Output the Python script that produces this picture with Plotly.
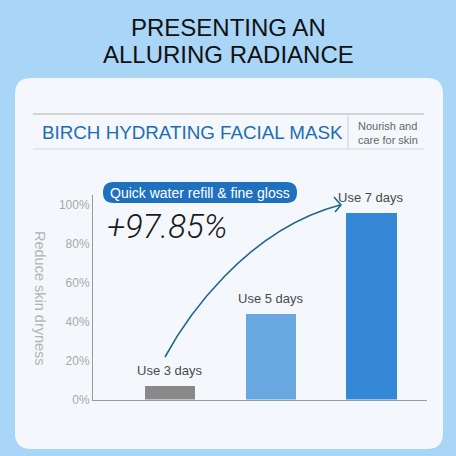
import plotly.graph_objects as go

# ---- data ----
categories = ["Use 3 days", "Use 5 days", "Use 7 days"]
values = [7, 44, 96]
bar_colors = ["#898989", "#68a7df", "#3588d5"]
y_ticks = [0, 20, 40, 60, 80, 100]
y_tick_labels = ["0%", "20%", "40%", "60%", "80%", "100%"]

title_lines = ["PRESENTING AN", "ALLURING RADIANCE"]
header_text = "BIRCH HYDRATING FACIAL MASK"
side_text = "Nourish and<br>care for skin"
pill_text = "Quick water refill & fine gloss"
big_text = "+97.85%"
y_title = "Reduce skin dryness"

W = H = 456


def px(x, y):
    return x / W, 1 - y / H


def rounded_rect(x0, y0, x1, y1, r):
    def P(x, y):
        a, b = px(x, y)
        return f"{a:.5f},{b:.5f}"
    return (f"M {P(x0 + r, y0)} L {P(x1 - r, y0)} Q {P(x1, y0)} {P(x1, y0 + r)} "
            f"L {P(x1, y1 - r)} Q {P(x1, y1)} {P(x1 - r, y1)} "
            f"L {P(x0 + r, y1)} Q {P(x0, y1)} {P(x0, y1 - r)} "
            f"L {P(x0, y0 + r)} Q {P(x0, y0)} {P(x0 + r, y0)} Z")


def path_pts(cmds):
    out = []
    for c in cmds:
        if isinstance(c, str):
            out.append(c)
        else:
            a, b = px(*c)
            out.append(f"{a:.5f},{b:.5f}")
    return " ".join(out)


fig = go.Figure()
fig.add_trace(go.Bar(
    x=categories, y=values, marker_color=bar_colors, width=0.5,
    marker_line_width=0, hoverinfo="skip", showlegend=False,
))

shapes = []
# card
shapes.append(dict(type="path", xref="paper", yref="paper", layer="below",
                   path=rounded_rect(15, 78, 443, 449, 16),
                   fillcolor="#f4f8fc", line=dict(width=0)))
# header lines
for yy, col, wd in [(114, "#c9c9c9", 1.5), (149, "#d6d6d6", 1)]:
    a0, b0 = px(33, yy)
    a1, b1 = px(424, yy)
    shapes.append(dict(type="line", xref="paper", yref="paper", x0=a0, x1=a1, y0=b0, y1=b1,
                       line=dict(color=col, width=wd)))
a0, b0 = px(348, 116)
a1, b1 = px(348, 148)
shapes.append(dict(type="line", xref="paper", yref="paper", x0=a0, x1=a1, y0=b0, y1=b1,
                   line=dict(color="#cccccc", width=1)))
# pill
shapes.append(dict(type="path", xref="paper", yref="paper",
                   path=rounded_rect(103, 182, 297, 203, 10.5),
                   fillcolor="#1f70bf", line=dict(width=0)))
# arrow curve
shapes.append(dict(type="path", xref="paper", yref="paper",
                   path=path_pts(["M", (165, 357), "C", (185, 320), (245, 230), (340, 205)]),
                   line=dict(color="#1e6690", width=1.6)))
shapes.append(dict(type="path", xref="paper", yref="paper",
                   path=path_pts(["M", (334, 197), "L", (341, 205), "L", (335, 212)]),
                   line=dict(color="#1e6690", width=1.6)))

annotations = []
FONT = "Liberation Sans, Arial, sans-serif"
for i, line in enumerate(title_lines):
    a, b = px(228, 28 + i * 26.5)
    annotations.append(dict(xref="paper", yref="paper", x=a, y=b, text=line, showarrow=False,
                            font=dict(family=FONT, size=24, color="#111111"),
                            xanchor="center", yanchor="middle"))
a, b = px(40, 132)
annotations.append(dict(xref="paper", yref="paper", x=a, y=b, text=header_text, showarrow=False,
                        font=dict(family=FONT, size=18.8, color="#1e6db3"),
                        xanchor="left", yanchor="middle"))
a, b = px(356, 133)
annotations.append(dict(xref="paper", yref="paper", x=a, y=b, text=side_text, showarrow=False,
                        font=dict(family=FONT, size=11, color="#666666"), align="left",
                        xanchor="left", yanchor="middle"))
a, b = px(200, 192.5)
annotations.append(dict(xref="paper", yref="paper", x=a, y=b, text=pill_text, showarrow=False,
                        font=dict(family=FONT, size=14, color="#ffffff"),
                        xanchor="center", yanchor="middle"))
a, b = px(105, 226)
annotations.append(dict(xref="paper", yref="paper", x=a, y=b, text=f"<i>{big_text}</i>", showarrow=False,
                        font=dict(family="Roboto, Liberation Sans, sans-serif", size=33,
                                  color="#1a1a1a", weight=300),
                        xanchor="left", yanchor="middle"))
a, b = px(40, 298)
annotations.append(dict(xref="paper", yref="paper", x=a, y=b, text=y_title, showarrow=False,
                        textangle=90, font=dict(family=FONT, size=14.5, color="#b3b3b3"),
                        xanchor="center", yanchor="middle"))
for c, v in zip(categories, values):
    annotations.append(dict(xref="x", yref="y", x=c, y=v, text=c, showarrow=False,
                            font=dict(family=FONT, size=13, color="#4a4a4a"),
                            xanchor="center", yanchor="bottom", yshift=6))

fig.update_layout(
    width=W, height=H, autosize=False,
    margin=dict(l=0, r=0, t=0, b=0, pad=0, autoexpand=False),
    paper_bgcolor="#a9d5f7",
    plot_bgcolor="rgba(0,0,0,0)",
    shapes=shapes,
    annotations=annotations,
    bargap=0,
    showlegend=False,
    xaxis=dict(domain=[93 / W, 427 / W], range=[-0.764, 2.551], type="category",
               showticklabels=False, ticks="", showgrid=False, zeroline=False, automargin=False,
               showline=True, linecolor="#9a9a9a", linewidth=1, fixedrange=True),
    yaxis=dict(domain=[1 - 399.5 / H, 1 - 195 / H], range=[0, 105.2],
               tickvals=y_ticks, ticktext=y_tick_labels, ticks="", automargin=False,
               tickfont=dict(family=FONT, size=12, color="#a8a8a8"),
               showgrid=False, zeroline=False, showline=True, linecolor="#9a9a9a",
               linewidth=1, fixedrange=True),
)

fig.write_html(
    "out.html",
    config={"displayModeBar": False},
    post_script="document.body.style.margin='0';document.body.style.padding='0';"
                "document.documentElement.style.overflow='hidden';",
)
